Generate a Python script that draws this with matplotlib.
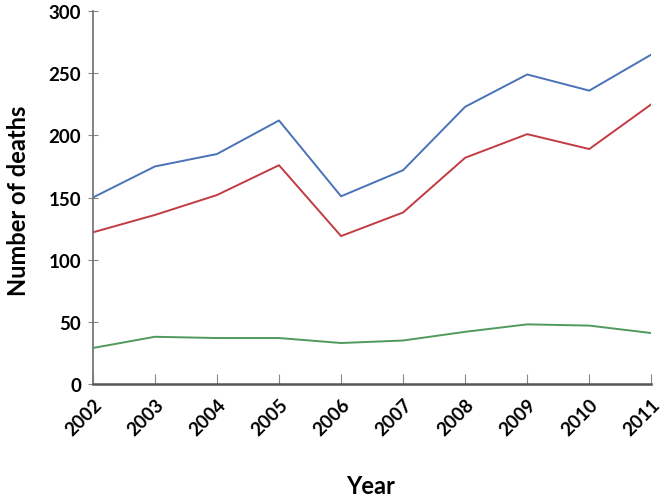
import matplotlib
matplotlib.use('Agg')
import matplotlib.pyplot as plt

years = [2002, 2003, 2004, 2005, 2006, 2007, 2008, 2009, 2010, 2011]
total = [150, 175, 185, 212, 151, 172, 223, 249, 236, 265]
red_series = [122, 136, 152, 176, 119, 138, 182, 201, 189, 225]
green_series = [29, 38, 37, 37, 33, 35, 42, 48, 47, 41]

plt.rcParams['font.family'] = ['Lato', 'DejaVu Sans']

fig = plt.figure(figsize=(6.68, 5.02), dpi=100)
ax = fig.add_axes([0.139, 0.233, 0.836, 0.743])

ax.plot(years, total, color='#4a72b8', lw=1.4)
ax.plot(years, red_series, color='#c23b41', lw=1.4)
ax.plot(years, green_series, color='#4f9a5c', lw=1.4)

ax.set_xlim(2002, 2011)
ax.set_ylim(0, 300)
ax.set_xticks(years)
ax.set_xticklabels([str(y) for y in years], rotation=45, ha='right',
                   rotation_mode='anchor', fontsize=13.5, fontweight='bold')
ax.set_yticks(range(0, 301, 50))
ax.set_yticklabels([str(v) for v in range(0, 301, 50)], fontsize=13.5, fontweight='bold')

for s in ['top', 'right']:
    ax.spines[s].set_visible(False)
ax.spines['left'].set_color('#777777')
ax.spines['bottom'].set_color('#555555')
ax.spines['left'].set_linewidth(1.3)
ax.spines['bottom'].set_linewidth(1.8)
ax.tick_params(axis='x', direction='in', length=7, color='#888888', pad=8)
ax.tick_params(axis='y', direction='inout', length=7, color='#888888', pad=5)

fig.text(0.027, 0.6, 'Number of deaths', rotation=90, ha='center', va='center',
         fontsize=17, fontweight='bold')
fig.text(0.555, 0.03, 'Year', ha='center', va='center', fontsize=17, fontweight='bold')

fig.savefig('out.png', dpi=100)
